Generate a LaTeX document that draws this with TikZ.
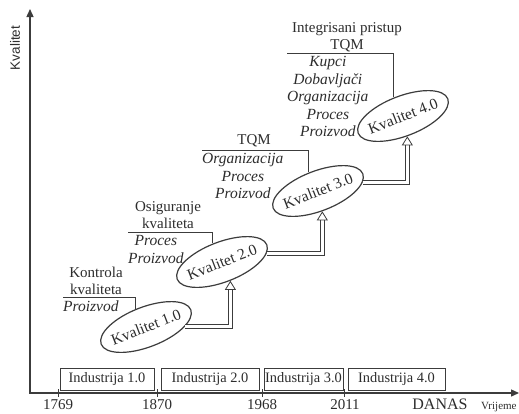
\documentclass[tikz,border=0pt]{standalone}
\usepackage{fontspec}
\setmainfont{Liberation Serif}
\newfontfamily\axisfont{Liberation Sans}
\usetikzlibrary{arrows.meta,shapes.geometric}
\definecolor{kvcolor0001}{RGB}{45,45,45}
\definecolor{kvcolor0002}{RGB}{60,60,60}

\begin{document}
\begin{tikzpicture}[yscale=-1
            ,kstyle0/.style={color=kvcolor0002,line width=1.3pt,{Triangle[length=8pt,width=7pt]}-{Triangle[length=8pt,width=7pt]}}
            ,kstyle1/.style={draw=kvcolor0002,line width=0.9pt,text=kvcolor0001,minimum height=22pt,inner sep=0pt,font=\fontsize{14.4}{16}\selectfont}
            ,kstyle2/.style={draw=kvcolor0002,line width=1.2pt,ellipse,rotate=21,minimum width=96pt,minimum height=40pt,inner xsep=-10pt,inner ysep=0pt,text=kvcolor0001,font=\fontsize{15.5}{18}\selectfont}
            ,kstyle3/.style={color=kvcolor0002,line width=0.9pt}
            ,kstyle4/.style={text=kvcolor0001,align=center,inner sep=0pt,font=\fontsize{15}{17}\selectfont}
            ,kstyle5/.style={text=kvcolor0001,align=center,inner xsep=0pt,inner ysep=3.5pt,font=\fontsize{15.5}{17.5}\selectfont\itshape}
            ,kstyle6/.style={color=kvcolor0002,line width=0.8pt,double=white,double distance=3.2pt,-{Triangle[open,length=9pt,width=11pt]}}
            ,kstyle7/.style={text=kvcolor0001,inner sep=0pt,font=\fontsize{15}{17}\selectfont}
        ]
        \useasboundingbox[fill=white] (0pt,0pt) rectangle (519pt,413pt);
        % axes
        \coordinate (ytop) at (30pt,9pt);
        \coordinate (orig) at (30pt,393pt);
        \coordinate (xend) at (519pt,393pt);
        \draw[kstyle0] (ytop) -- (orig) -- (xend);
        \node (ylab) at (15pt,48pt)[rotate=90,text=kvcolor0001,font=\axisfont\fontsize{13.5}{15}\selectfont]{Kvalitet};
        \node (xlab) at (481pt,407pt)[right,inner sep=0pt,text=kvcolor0001,font=\fontsize{11}{13}\selectfont]{Vrijeme};
        \draw[kstyle3] (58pt,389pt) -- (58pt,397pt);
        \draw[kstyle3] (157pt,389pt) -- (157pt,397pt);
        \draw[kstyle3] (262pt,389pt) -- (262pt,397pt);
        \draw[kstyle3] (344pt,389pt) -- (344pt,397pt);
        \node (y1769) at (58pt,405pt)[kstyle7]{1769};
        \node (y1870) at (157pt,405pt)[kstyle7]{1870};
        \node (y1968) at (262pt,405pt)[kstyle7]{1968};
        \node (y2011) at (345pt,405pt)[kstyle7]{2011};
        \node (danas) at (440pt,404pt)[kstyle7,font=\fontsize{16}{18}\selectfont]{DANAS};
        % industrija
        \node (ind1) at (107pt,379pt)[kstyle1,minimum width=94pt]{Industrija 1.0};
        \node (ind2) at (210pt,379pt)[kstyle1,minimum width=98pt]{Industrija 2.0};
        \node (ind3) at (303.5pt,379pt)[kstyle1,minimum width=79pt]{Industrija 3.0};
        \node (ind4) at (396.5pt,379pt)[kstyle1,minimum width=97pt]{Industrija 4.0};
        % kvalitet
        \node (kv1) at (146pt,327pt)[kstyle2]{Kvalitet 1.0};
        \node (kv2) at (222pt,262pt)[kstyle2]{Kvalitet 2.0};
        \node (kv3) at (318pt,191pt)[kstyle2]{Kvalitet 3.0};
        \node (kv4) at (403pt,116pt)[kstyle2]{Kvalitet 4.0};
        \draw[kstyle6] (kv1.-20) -| (kv2.-87);
        \draw[kstyle6] (kv2.-10) -| (kv3.-99);
        \draw[kstyle6] (kv3.-10) -| (kv4.-99);
        % faze
        \node (head1) at (96pt,281pt)[kstyle4]{Kontrola\\kvaliteta};
        \node (item1) at (63pt,297pt)[below right,kstyle5]{Proizvod};
        \draw[kstyle3] (item1.north west) -| (kv1.100);
        \node (head2) at (168pt,215pt)[kstyle4]{Osiguranje\\kvaliteta};
        \node (item2) at (128pt,232pt)[below right,kstyle5]{Proces\\Proizvod};
        \draw[kstyle3] (item2.north west) -| (kv2.95);
        \node (head3) at (254pt,141pt)[kstyle4]{TQM};
        \node (item3) at (202pt,150pt)[below right,kstyle5]{Organizacija\\Proces\\Proizvod};
        \draw[kstyle3] (item3.north west) -| (kv3.95);
        \node (head4) at (347pt,37pt)[kstyle4]{Integrisani pristup\\TQM};
        \node (item4) at (287pt,53pt)[below right,kstyle5]{Kupci\\Dobavljači\\Organizacija\\Proces\\Proizvod};
        \draw[kstyle3] (item4.north west) -| (kv4.95);
    \end{tikzpicture}
\end{document}
